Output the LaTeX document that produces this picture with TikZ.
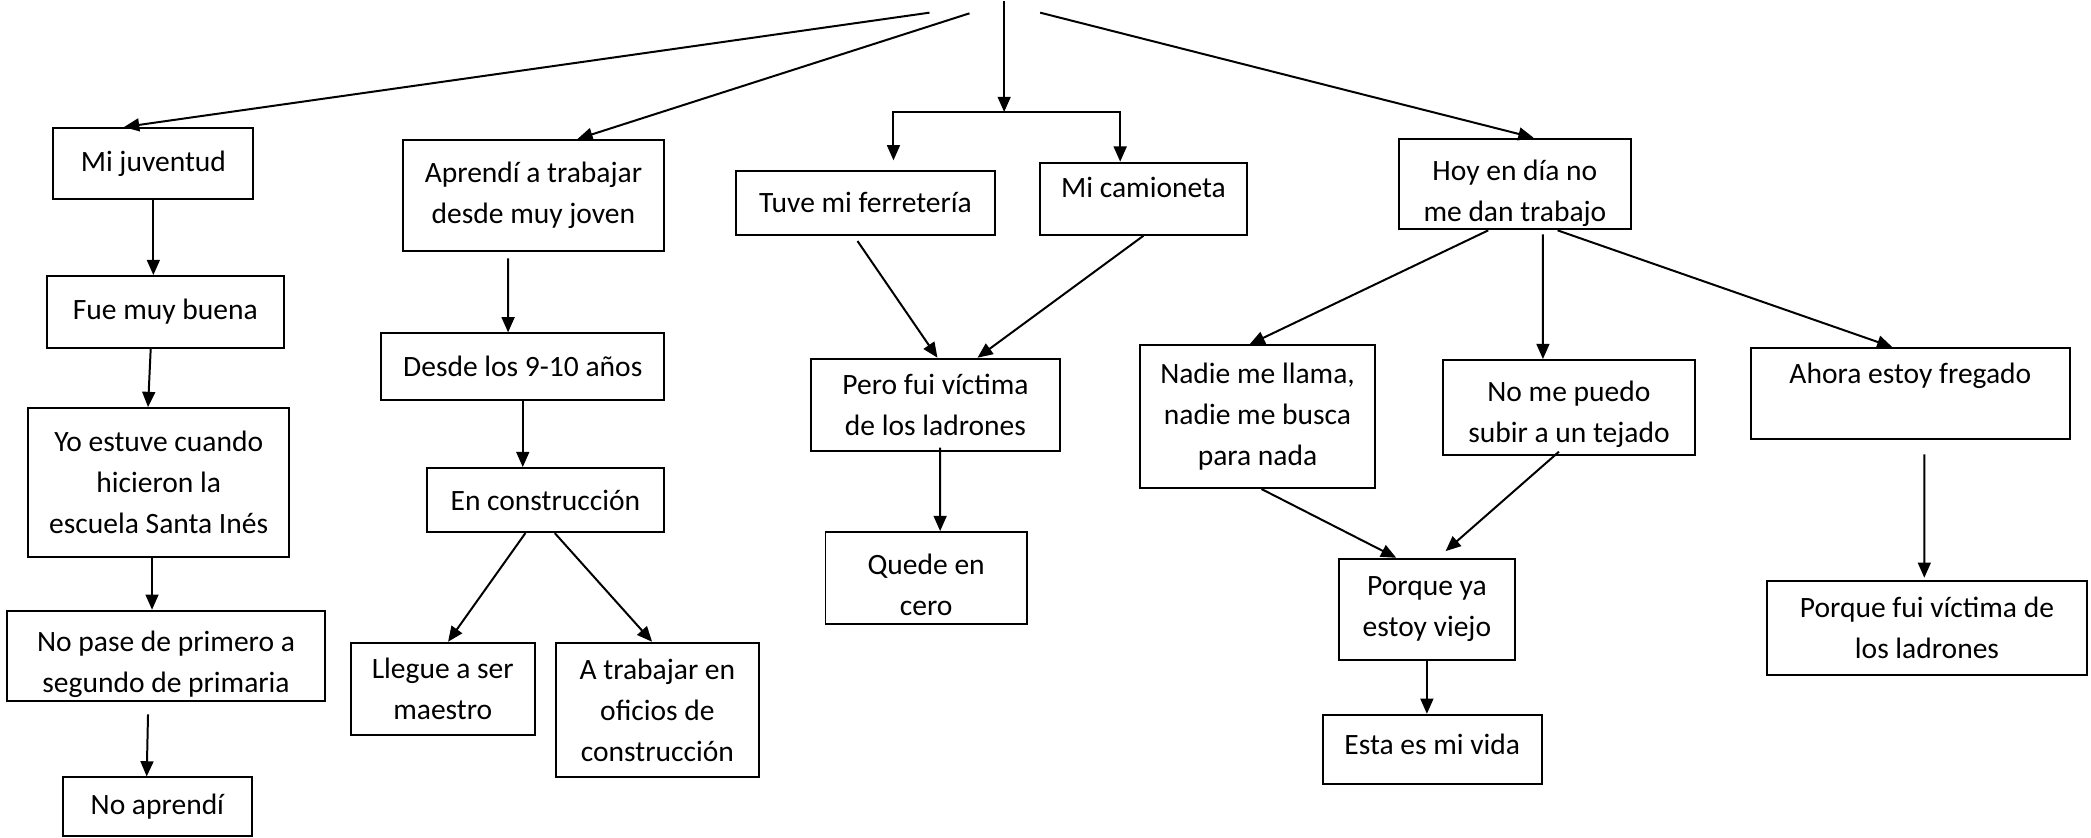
\documentclass[tikz,border=0pt]{standalone}
\usepackage{fontspec}
\setmainfont{Carlito}
\usetikzlibrary{arrows.meta}
\begin{document}
\begin{tikzpicture}[x=0.02cm, y=-0.02cm, font=\fontsize{12.6pt}{17.5pt}\selectfont,
    box/.style={draw, line width=0.85pt, align=center, inner sep=0pt},
    arr/.style={-{Triangle[length=6.5pt, width=5.5pt]}, line width=0.85pt}]
\useasboundingbox (0,0) rectangle (1568,628);
\coordinate (top1) at (697,9.5);
\coordinate (top2) at (727,10);
\coordinate (top3) at (753,1);
\coordinate (top4) at (780,9.5);
\coordinate (split) at (753,84);

\node[box, minimum width=3cm, minimum height=1.06cm] (juventud) at (115,122.5) {Mi juventud};
\node[box, minimum width=3.56cm, minimum height=1.08cm] (buena) at (124,234) {Fue muy buena};
\node[box, minimum width=3.92cm, minimum height=2.24cm] (estuve) at (119,362) {Yo estuve cuando\\hicieron la\\escuela Santa Inés};
\node[box, minimum width=4.78cm, minimum height=1.36cm] (pase) at (124.5,492) {\rule{0pt}{15.8pt}No pase de primero a\\segundo de primaria};
\node[box, minimum width=2.84cm, minimum height=0.88cm] (aprendi) at (118,605) {No aprendí};

\node[box, minimum width=3.92cm, minimum height=1.66cm] (trabajar) at (400,146.5) {Aprendí a trabajar\\desde muy joven};
\node[box, minimum width=4.24cm, minimum height=1cm] (desde) at (392,275) {Desde los 9-10 años};
\node[box, minimum width=3.56cm, minimum height=0.96cm] (constr) at (409,375) {En construcción};
\node[box, minimum width=2.76cm, minimum height=1.38cm] (maestro) at (332,516.5) {Llegue a ser\\maestro};
\node[box, minimum width=3.04cm, minimum height=2.02cm] (oficios) at (493,532.5) {A trabajar en\\oficios de\\construcción};

\node[box, minimum width=3.88cm, minimum height=0.96cm] (ferreteria) at (649,152) {Tuve mi ferretería};
\node[box, minimum width=3.1cm, minimum height=1.08cm, text depth=10pt] (camioneta) at (857.5,149) {Mi camioneta};
\node[box, minimum width=3.74cm, minimum height=1.38cm] (victima) at (701.5,303.5) {Pero fui víctima\\de los ladrones};
\node[box, minimum width=3.02cm, minimum height=1.38cm] (cero) at (694.5,433.5) {\rule{0pt}{14.6pt}Quede en\\cero};

\node[box, minimum width=3.48cm, minimum height=1.36cm] (hoy) at (1136,138) {\rule{0pt}{17pt}Hoy en día no\\me dan trabajo};
\node[box, minimum width=3.52cm, minimum height=2.14cm] (nadie) at (943,312.5) {Nadie me llama,\\nadie me busca\\para nada};
\node[box, minimum width=3.78cm, minimum height=1.42cm] (tejado) at (1176.5,305.5) {\rule{0pt}{14.6pt}No me puedo\\subir a un tejado};
\node[box, minimum width=4.78cm, minimum height=1.36cm] (fregado) at (1432.5,295) {Ahora estoy fregado\\\mbox{}};
\node[box, minimum width=2.64cm, minimum height=1.52cm] (viejo) at (1070,457) {Porque ya\\estoy viejo};
\node[box, minimum width=3.28cm, minimum height=1.04cm, text depth=4.5pt] (vida) at (1074,562) {Esta es mi vida};
\node[box, minimum width=4.8cm, minimum height=1.4cm] (fui) at (1445,471) {Porque fui víctima de\\los ladrones};

\draw[arr] (top1) -- ([xshift=-0.44cm]juventud.north);
\draw[arr] (juventud.south) -- (juventud.south |- buena.north);
\draw[arr] ([xshift=-0.22cm]buena.south) -- ([xshift=-0.16cm]estuve.north);
\draw[arr] ([xshift=-0.1cm]estuve.south) -- ([xshift=-0.1cm]estuve.south |- pase.north);
\draw[arr] ([xshift=-0.27cm, yshift=-0.18cm]pase.south) -- ([xshift=-0.16cm]aprendi.north);

\draw[arr] (top2) -- ([xshift=0.66cm]trabajar.north);
\draw[arr] ([xshift=-0.38cm, yshift=-0.1cm]trabajar.south) -- ([xshift=-0.22cm]desde.north);
\draw[arr] (desde.south) -- (desde.south |- constr.north);
\draw[arr] ([xshift=-0.3cm]constr.south) -- ([xshift=0.08cm]maestro.north);
\draw[arr] ([xshift=0.14cm]constr.south) -- ([xshift=-0.08cm]oficios.north);

\draw[arr] (top3) -- (split);
\draw[arr] (split) -| ([xshift=0.42cm, yshift=0.14cm]ferreteria.north);
\draw[arr] (split) -| ([xshift=-0.35cm]camioneta.north);
\draw[arr] ([xshift=-0.12cm, yshift=-0.08cm]ferreteria.south) -- ([xshift=0.03cm]victima.north);
\draw[arr] (camioneta.south) -- ([xshift=0.63cm]victima.north);
\draw[arr] ([xshift=0.07cm, yshift=0.06cm]victima.south) -- ([xshift=0.21cm]cero.north);

\draw[arr] (top4) -- ([xshift=0.28cm]hoy.north);
\draw[arr] ([xshift=-0.4cm]hoy.south) -- ([xshift=-0.12cm]nadie.north);
\draw[arr] ([xshift=0.42cm, yshift=-0.06cm]hoy.south) -- ([xshift=-0.39cm]tejado.north);
\draw[arr] ([xshift=0.64cm]hoy.south) -- ([xshift=-0.27cm]fregado.north);
\draw[arr] ([xshift=0.06cm]nadie.south) -- ([xshift=-0.46cm]viejo.north);
\draw[arr] ([xshift=-0.15cm, yshift=0.06cm]tejado.south) -- ([xshift=0.28cm, yshift=0.1cm]viejo.north);
\draw[arr] (viejo.south) -- (viejo.south |- vida.north);
\draw[arr] ([xshift=0.21cm, yshift=-0.22cm]fregado.south) -- ([xshift=-0.04cm, yshift=0.04cm]fui.north);
\end{tikzpicture}
\end{document}
